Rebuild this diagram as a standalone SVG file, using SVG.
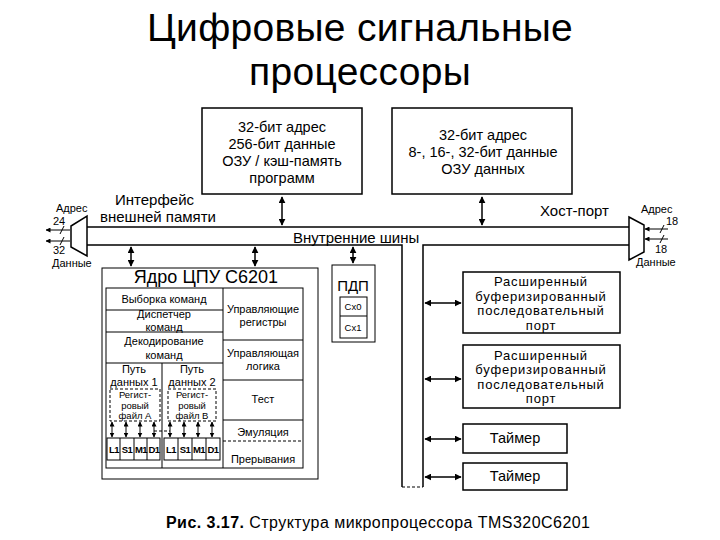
<svg xmlns="http://www.w3.org/2000/svg" width="720" height="540" viewBox="0 0 720 540">
<defs>
<marker id="ah" viewBox="0 0 10 10" refX="9" refY="5" markerWidth="7" markerHeight="7" orient="auto-start-reverse" markerUnits="userSpaceOnUse">
<path d="M0,0 L10,5 L0,10 z" fill="#000"/>
</marker>
<marker id="ahs" viewBox="0 0 10 10" refX="9" refY="5" markerWidth="5" markerHeight="5" orient="auto-start-reverse" markerUnits="userSpaceOnUse">
<path d="M0,0 L10,5 L0,10 z" fill="#000"/>
</marker>
</defs>
<style>
text{font-family:"Liberation Sans",Arial,sans-serif;fill:#000}
.t{font-size:39px;text-anchor:middle;letter-spacing:0.3px}
.m{font-size:14.5px;text-anchor:middle}
.l{font-size:15px}
.s{font-size:11px;text-anchor:middle}
.r{font-size:9.5px;text-anchor:middle}
.xs{font-size:9.5px;text-anchor:middle;font-weight:bold;letter-spacing:-0.5px}
.p{font-size:13px;text-anchor:middle;letter-spacing:0.8px}
.tm{font-size:14.5px;text-anchor:middle}
.box{fill:none;stroke:#000;stroke-width:1.5}
.thin{fill:none;stroke:#000;stroke-width:1}
.dash{fill:none;stroke:#000;stroke-width:1;stroke-dasharray:3,2}
.bus{fill:none;stroke:#000;stroke-width:1.5}
.arr{stroke:#000;stroke-width:1.5;marker-start:url(#ah);marker-end:url(#ah)}
.sarr{stroke:#000;stroke-width:1;marker-start:url(#ahs);marker-end:url(#ahs)}
.cap{font-size:16px}
</style>
<rect width="720" height="540" fill="#fff"/>

<g id="title">
<text class="t" x="360" y="41">Цифровые сигнальные</text>
<text class="t" x="360" y="85">процессоры</text>
</g>

<g id="prog-mem">
<rect class="box" x="202" y="108" width="160" height="86"/>
<text class="m" x="282" y="132">32-бит адрес</text>
<text class="m" x="282" y="149">256-бит данные</text>
<text class="m" x="282" y="166">ОЗУ / кэш-память</text>
<text class="m" x="282" y="183">программ</text>
</g>

<g id="data-mem">
<rect class="box" x="392" y="108" width="180" height="86"/>
<text class="m" x="483" y="140">32-бит адрес</text>
<text class="m" x="483" y="157">8-, 16-, 32-бит данные</text>
<text class="m" x="483" y="174">ОЗУ данных</text>
</g>

<g id="emif">
<path class="box" d="M71,226 L87,216 L87,256 L71,247 Z"/>
<text class="l" x="115" y="205">Интерфейс</text>
<text class="l" x="100" y="222">внешней памяти</text>
<text style="font-size:11px" x="56" y="212">Адрес</text>
<text style="font-size:11px" x="53" y="225">24</text>
<text style="font-size:11px" x="53" y="254">32</text>
<text style="font-size:11px" x="52" y="267">Данные</text>
</g>

<g id="hpi">
<path class="box" d="M629,217 L644,225 L644,252 L629,260 Z"/>
<text class="l" x="540" y="216">Хост-порт</text>
<text style="font-size:11px" x="641" y="213">Адрес</text>
<text style="font-size:11px" x="666" y="225">18</text>
<text style="font-size:11px" x="655" y="253">18</text>
<text style="font-size:11px" x="636" y="266">Данные</text>
</g>

<g id="bus-label">
<text class="l" x="293" y="243">Внутренние шины</text>
</g>

<g id="cpu">
<rect class="thin" x="102" y="268" width="216" height="211"/>
<text style="font-size:18px;text-anchor:middle" x="206" y="283">Ядро ЦПУ C6201</text>
<rect class="thin" x="106" y="288" width="197" height="180"/>
<line class="thin" x1="223" y1="288" x2="223" y2="468"/>
<line class="thin" x1="106" y1="310" x2="223" y2="310"/>
<line class="thin" x1="106" y1="332" x2="223" y2="332"/>
<line class="thin" x1="106" y1="363" x2="223" y2="363"/>
<line class="thin" x1="162" y1="363" x2="162" y2="468"/>
<line class="thin" x1="223" y1="340" x2="303" y2="340"/>
<line class="thin" x1="223" y1="380" x2="303" y2="380"/>
<line class="thin" x1="223" y1="420" x2="303" y2="420"/>
<line class="dash" x1="223" y1="441" x2="303" y2="441"/>
<text class="s" x="164" y="303">Выборка команд</text>
<text class="s" x="164" y="318.3">Диспетчер</text>
<text class="s" x="164" y="330.8">команд</text>
<text class="s" x="164" y="345">Декодирование</text>
<text class="s" x="164" y="359">команд</text>
<text class="s" x="134" y="373">Путь</text>
<text class="s" x="134" y="385.5">данных 1</text>
<text class="s" x="192" y="373">Путь</text>
<text class="s" x="192" y="385.5">данных 2</text>
<text class="s" x="263" y="313">Управляющие</text>
<text class="s" x="263" y="326">регистры</text>
<text class="s" x="263" y="357">Управляющая</text>
<text class="s" x="263" y="370">логика</text>
<text class="s" x="263" y="403">Тест</text>
<text class="s" x="263" y="436">Эмуляция</text>
<text class="s" x="263" y="463">Прерывания</text>
<rect class="dash" x="110" y="389" width="50" height="32"/>
<text class="r" x="135" y="398">Регист-</text>
<text class="r" x="135" y="408.6">ровый</text>
<text class="r" x="135" y="419.2">файл A</text>
<rect class="dash" x="168" y="389" width="48" height="32"/>
<text class="r" x="192" y="398">Регист-</text>
<text class="r" x="192" y="408.6">ровый</text>
<text class="r" x="192" y="419.2">файл B</text>
<rect class="thin" x="107" y="438" width="53" height="22"/>
<line class="thin" x1="120" y1="438" x2="120" y2="460"/>
<line class="thin" x1="134" y1="438" x2="134" y2="460"/>
<line class="thin" x1="147" y1="438" x2="147" y2="460"/>
<rect class="thin" x="164" y="438" width="56" height="22"/>
<line class="thin" x1="178" y1="438" x2="178" y2="460"/>
<line class="thin" x1="192" y1="438" x2="192" y2="460"/>
<line class="thin" x1="206" y1="438" x2="206" y2="460"/>
<text class="xs" x="114" y="453">L1</text>
<text class="xs" x="127" y="453">S1</text>
<text class="xs" x="141" y="453">M1</text>
<text class="xs" x="154" y="453">D1</text>
<text class="xs" x="171" y="453">L1</text>
<text class="xs" x="185" y="453">S1</text>
<text class="xs" x="199" y="453">M1</text>
<text class="xs" x="213" y="453">D1</text>
<line class="sarr" x1="112" y1="422" x2="112" y2="437"/>
<line class="sarr" x1="126" y1="422" x2="126" y2="437"/>
<line class="sarr" x1="140" y1="422" x2="140" y2="437"/>
<line class="sarr" x1="154" y1="422" x2="154" y2="437"/>
<line class="sarr" x1="170" y1="422" x2="170" y2="437"/>
<line class="sarr" x1="184" y1="422" x2="184" y2="437"/>
<line class="sarr" x1="198" y1="422" x2="198" y2="437"/>
<line class="sarr" x1="212" y1="422" x2="212" y2="437"/>
<line class="dash" x1="154" y1="431" x2="170" y2="431"/>
</g>

<g id="dma">
<rect class="thin" x="332" y="265" width="43" height="77"/>
<text style="font-size:15px;text-anchor:middle" x="353" y="291">ПДП</text>
<rect class="thin" x="340" y="297" width="27" height="41"/>
<line class="thin" x1="340" y1="316" x2="367" y2="316"/>
<text class="r" x="353" y="310">Cx0</text>
<text class="r" x="353" y="331">Cx1</text>
</g>

<g id="port1">
<rect class="box" x="463" y="272" width="157" height="61"/>
<text class="p" x="541" y="286">Расширенный</text>
<text class="p" x="541" y="300.5">буферизированный</text>
<text class="p" x="541" y="315">последовательный</text>
<text class="p" x="541" y="329.5">порт</text>
</g>

<g id="port2">
<rect class="box" x="463" y="345" width="157" height="63"/>
<text class="p" x="541" y="359.5">Расширенный</text>
<text class="p" x="541" y="374">буферизированный</text>
<text class="p" x="541" y="388.5">последовательный</text>
<text class="p" x="541" y="403">порт</text>
</g>

<g id="timer1">
<rect class="box" x="463" y="424" width="104" height="29"/>
<text class="tm" x="515" y="443">Таймер</text>
</g>

<g id="timer2">
<rect class="box" x="463" y="463" width="104" height="27"/>
<text class="tm" x="515" y="481">Таймер</text>
</g>

<g id="connectors">
<line class="bus" x1="87" y1="227" x2="629" y2="227"/>
<polyline class="bus" points="87,245 402,245 402,487"/>
<polyline class="bus" points="629,245 423,245 423,487"/>
<line class="dash" x1="402" y1="487" x2="423" y2="487"/>
<line class="arr" x1="282" y1="197" x2="282" y2="225"/>
<line class="arr" x1="482" y1="197" x2="482" y2="225"/>
<line class="arr" x1="131" y1="247" x2="131" y2="266"/>
<line class="arr" x1="255" y1="247" x2="255" y2="266"/>
<line class="arr" x1="353" y1="247" x2="353" y2="263"/>
<line class="arr" x1="425" y1="303" x2="461" y2="303"/>
<line class="arr" x1="425" y1="379" x2="461" y2="379"/>
<line class="arr" x1="425" y1="439" x2="461" y2="439"/>
<line class="arr" x1="425" y1="477" x2="461" y2="477"/>
<line class="sarr" x1="70" y1="230" x2="46" y2="230" style="marker-start:none"/>
<line class="sarr" x1="70" y1="241" x2="46" y2="241" style="marker-start:none"/>
<line class="thin" x1="60" y1="234" x2="64" y2="226"/>
<line class="thin" x1="60" y1="245" x2="64" y2="237"/>
<line class="sarr" x1="668" y1="229" x2="645" y2="229" style="marker-start:none"/>
<line class="sarr" x1="668" y1="239" x2="645" y2="239" style="marker-start:none"/>
<line class="thin" x1="660" y1="233" x2="664" y2="225"/>
<line class="thin" x1="660" y1="243" x2="664" y2="235"/>
</g>

<g id="caption">
<text class="cap" x="166" y="528" textLength="424"><tspan font-weight="bold">Рис. 3.17.</tspan> Структура микропроцессора TMS320C6201</text>
</g>
</svg>
